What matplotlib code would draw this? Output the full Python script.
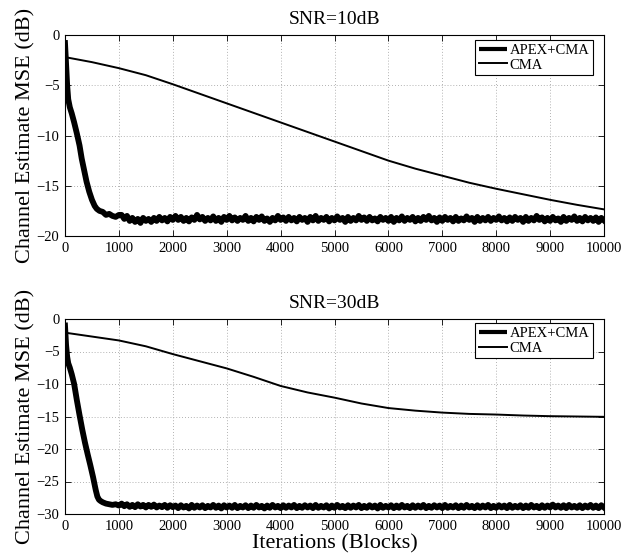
import matplotlib
matplotlib.use("Agg")
import matplotlib.pyplot as plt

plt.rcParams['font.family'] = ['Liberation Serif', 'DejaVu Serif']

titles = ["SNR=10dB", "SNR=30dB"]
legend_labels = ["APEX+CMA", "CMA"]
ylabel = "Channel Estimate MSE (dB)"
xlabel = "Iterations (Blocks)"
xticks = [0, 1000, 2000, 3000, 4000, 5000, 6000, 7000, 8000, 9000, 10000]
yticks_top = [0, -5, -10, -15, -20]
yticks_bot = [0, -5, -10, -15, -20, -25, -30]

# CMA curves
cma_x = [0, 500, 1000, 1500, 2000, 2500, 3000, 3500, 4000, 4500, 5000, 5500,
         6000, 6500, 7000, 7500, 8000, 8500, 9000, 9500, 10000]
cma_top = [-2.2, -2.7, -3.3, -4.0, -4.9, -5.85, -6.8, -7.75, -8.7, -9.65, -10.6,
           -11.55, -12.5, -13.3, -14.0, -14.7, -15.3, -15.85, -16.4, -16.9, -17.35]
cma_bot = [-2.1, -2.7, -3.3, -4.2, -5.4, -6.5, -7.6, -8.9, -10.3, -11.3, -12.1,
           -13.0, -13.7, -14.1, -14.4, -14.6, -14.7, -14.85, -14.95, -15.0, -15.05]

# APEX+CMA curves: transient then noisy plateau
apex_x_head_top = [0, 20, 40, 60, 90, 125, 170, 220, 270, 310, 360, 400, 450,
                   500, 550, 590, 640, 700, 760, 820, 880, 940, 1000]
apex_head_top = [-0.8, -3.0, -5.0, -6.4, -7.2, -7.8, -8.7, -9.8, -11.0, -12.3,
                 -13.6, -14.6, -15.6, -16.4, -17.0, -17.3, -17.5, -17.6, -17.9,
                 -17.8, -18.0, -18.1, -17.9]
apex_x_head_bot = [0, 20, 40, 60, 90, 125, 170, 220, 270, 320, 370, 420, 470,
                   520, 570, 600, 630, 660, 700, 760, 820, 880, 940, 1000]
apex_head_bot = [-1.0, -4.0, -5.8, -6.8, -7.5, -8.5, -10.0, -12.5, -14.8, -17.0,
                 -19.0, -20.8, -22.5, -24.3, -26.3, -27.3, -27.8, -28.0, -28.2,
                 -28.4, -28.5, -28.6, -28.5, -28.7]
plateau_x = list(range(1050, 10001, 50))
apex_tail_top = [
    -17.9, -18.3, -18.0, -18.5, -18.2, -18.6, -18.3, -18.7, -18.2, -18.5,
    -18.3, -18.6, -18.2, -18.5, -18.1, -18.45, -18.2, -18.55, -18.1, -18.4,
    -18.0, -18.4, -18.1, -18.5, -18.2, -18.55, -18.15, -18.4, -17.9, -18.35,
    -18.1, -18.5, -18.2, -18.45, -18.05, -18.5, -18.2, -18.6, -18.1, -18.4,
    -18.0, -18.45, -18.15, -18.5, -18.2, -18.4, -18.0, -18.5, -18.2, -18.55,
    -18.1, -18.4, -18.05, -18.5, -18.25, -18.6, -18.2, -18.45, -18.0, -18.4,
    -18.15, -18.5, -18.1, -18.45, -18.2, -18.55, -18.1, -18.4, -18.2, -18.6,
    -18.1, -18.45, -18.0, -18.5, -18.2, -18.4, -18.1, -18.55, -18.2, -18.45,
    -18.05, -18.4, -18.2, -18.6, -18.1, -18.5, -18.2, -18.45, -18.0, -18.4,
    -18.15, -18.5, -18.1, -18.45, -18.25, -18.55, -18.1, -18.4, -18.2, -18.5,
    -18.1, -18.6, -18.2, -18.45, -18.05, -18.5, -18.2, -18.4, -18.1, -18.55,
    -18.2, -18.5, -18.1, -18.4, -18.0, -18.45, -18.2, -18.6, -18.15, -18.5,
    -18.1, -18.4, -18.2, -18.55, -18.1, -18.5, -18.25, -18.45, -18.05, -18.4,
    -18.2, -18.6, -18.1, -18.5, -18.2, -18.45, -18.1, -18.5, -18.2, -18.4,
    -18.05, -18.45, -18.2, -18.55, -18.15, -18.5, -18.1, -18.4, -18.2, -18.6,
    -18.1, -18.5, -18.2, -18.45, -18.0, -18.4, -18.15, -18.55, -18.2, -18.5,
    -18.1, -18.45, -18.25, -18.6, -18.1, -18.5, -18.2, -18.4, -18.05, -18.5,
    -18.2, -18.55, -18.1, -18.45, -18.2, -18.5, -18.15, -18.6, -18.2, -18.45]
apex_tail_bot = [
    -28.4, -28.8, -28.5, -28.9, -28.6, -28.95, -28.5, -28.85, -28.6, -29.0,
    -28.6, -28.9, -28.55, -29.0, -28.7, -28.95, -28.6, -29.05, -28.65, -28.95,
    -28.7, -29.1, -28.65, -29.0, -28.75, -29.15, -28.6, -29.05, -28.7, -29.0,
    -28.65, -29.1, -28.75, -29.0, -28.6, -29.05, -28.7, -29.15, -28.65, -29.0,
    -28.7, -29.05, -28.6, -29.1, -28.75, -29.0, -28.65, -29.1, -28.7, -29.05,
    -28.6, -29.0, -28.75, -29.15, -28.7, -29.05, -28.6, -29.0, -28.75, -29.1,
    -28.65, -29.05, -28.7, -29.0, -28.6, -29.1, -28.75, -29.05, -28.65, -29.0,
    -28.7, -29.1, -28.6, -29.05, -28.75, -29.0, -28.65, -29.15, -28.7, -29.05,
    -28.6, -29.0, -28.75, -29.1, -28.65, -29.05, -28.7, -29.0, -28.6, -29.1,
    -28.75, -29.05, -28.65, -29.0, -28.7, -29.15, -28.6, -29.05, -28.75, -29.0,
    -28.65, -29.1, -28.7, -29.05, -28.6, -29.0, -28.75, -29.1, -28.65, -29.05,
    -28.7, -29.0, -28.6, -29.1, -28.75, -29.05, -28.65, -29.0, -28.7, -29.1,
    -28.6, -29.05, -28.75, -29.0, -28.65, -29.1, -28.7, -29.05, -28.6, -29.0,
    -28.75, -29.1, -28.65, -29.05, -28.7, -29.0, -28.6, -29.1, -28.75, -29.05,
    -28.65, -29.0, -28.7, -29.1, -28.6, -29.05, -28.75, -29.0, -28.65, -29.1,
    -28.7, -29.05, -28.6, -29.0, -28.75, -29.1, -28.65, -29.05, -28.7, -29.0,
    -28.55, -29.0, -28.7, -29.05, -28.65, -29.1, -28.6, -29.0, -28.75, -29.05,
    -28.65, -29.1, -28.7, -29.0, -28.6, -29.05, -28.7, -29.1, -28.65, -29.0]

fig = plt.figure(figsize=(6.31, 5.54), dpi=100)
ax1 = fig.add_axes([65/631, 1-236/554, 539/631, 201/554])
ax2 = fig.add_axes([65/631, 1-514/554, 539/631, 195/554])

panels = [
    (ax1, titles[0], apex_x_head_top, apex_head_top, apex_tail_top, cma_top, yticks_top, (-20, 0), (0.9796, 0.975)),
    (ax2, titles[1], apex_x_head_bot, apex_head_bot, apex_tail_bot, cma_bot, yticks_bot, (-30, 0), (0.9796, 0.979)),
]

for ax, title, hx, hy, ty, cy, yt, ylim, anchor in panels:
    n = min(len(plateau_x), len(ty))
    ax.plot(hx + plateau_x[:n], hy + ty[:n], color='black', lw=4.2,
            solid_joinstyle='round', label=legend_labels[0])
    ax.plot(cma_x, cy, color='black', lw=1.4, label=legend_labels[1])
    ax.set_xlim(0, 10000)
    ax.set_ylim(*ylim)
    ax.set_xticks(xticks)
    ax.set_yticks(yt)
    ax.tick_params(direction='in', top=True, right=True, labelsize=10.5,
                   length=4, width=0.6, pad=4)
    ax.grid(True, linestyle=(0, (1, 2.5)), color='#999999', linewidth=0.6)
    for s in ax.spines.values():
        s.set_linewidth(0.8)
    ax.set_title(title, fontsize=14, pad=8)
    ax.set_ylabel(ylabel, fontsize=16, labelpad=1)
    leg = ax.legend(loc='upper right', bbox_to_anchor=anchor, borderaxespad=0,
                    fontsize=10.5, frameon=True, fancybox=False,
                    edgecolor='black', framealpha=1, handlelength=1.9,
                    handletextpad=0.2, borderpad=0.25, labelspacing=0.1)
    leg.get_frame().set_linewidth(0.8)
    leg.get_lines()[0].set_linewidth(3.0)
    leg.get_lines()[0].set_solid_capstyle('butt')

ax2.set_xlabel(xlabel, fontsize=16, labelpad=1)

fig.savefig("out.png", dpi=100)
